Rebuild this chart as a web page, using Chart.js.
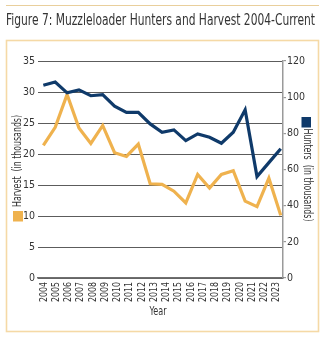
<!DOCTYPE html>
<html>
<head>
<meta charset="utf-8">
<script src="https://cdn.jsdelivr.net/npm/chart.js@4.4.1/dist/chart.umd.min.js"></script>
<style>
  html, body { margin: 0; padding: 0; background: #ffffff; }
  #wrap { position: relative; width: 325px; height: 338px; }
  canvas { display: block; }
</style>
</head>
<body>
<div id="wrap"><canvas id="chart" width="325" height="338"></canvas></div>
<script>
// Year labels along the bottom axis
const yearLabels = ['2004','2005','2006','2007','2008','2009','2010','2011','2012','2013',
                    '2014','2015','2016','2017','2018','2019','2020','2021','2022','2023'];

// Muzzleloader harvest, thousands (left axis)
const harvest = [21.4, 24.3, 29.6, 24.2, 21.7, 24.6, 20.2, 19.6, 21.6, 15.2, 15.1,
                 14.0, 12.1, 16.7, 14.5, 16.7, 17.3, 12.4, 11.5, 16.1, 10.1];

// Muzzleloader hunters, thousands (right axis)
const hunters = [106.6, 108.4, 102.4, 104.0, 100.8, 101.4, 95.0, 91.6, 91.6, 85.2, 80.6,
                 81.9, 76.0, 79.7, 77.8, 74.5, 80.6, 93.0, 56.1, 63.8, 71.5];

// Axis ticks
const harvestTicks = { min: 0, max: 35, step: 5 };
const hunterTicks = { min: 0, max: 120, step: 20 };

const FONT = "'Liberation Sans Narrow', 'DejaVu Sans Condensed', 'Arial Narrow', sans-serif";
const TEXT = '#343434';
const ORANGE = '#EFB24E';
const NAVY = '#0F3A6A';

const toPoints = arr => arr.map((v, i) => ({ x: i, y: v }));

// Draw text squeezed or stretched to a given length
function fitText(ctx, text, x, y, len, size, rot, align) {
  ctx.save();
  ctx.font = 'normal ' + size + 'px ' + FONT;
  ctx.fillStyle = TEXT;
  ctx.textAlign = align || 'center';
  ctx.textBaseline = 'middle';
  ctx.translate(x, y);
  ctx.rotate(rot || 0);
  const w = ctx.measureText(text).width;
  ctx.scale(len / w, 1);
  ctx.fillText(text, 0, 0);
  ctx.restore();
}

const decorations = {
  id: 'decorations',
  beforeDraw(chart) {
    const ctx = chart.ctx;
    ctx.save();
    ctx.fillStyle = '#ffffff';
    ctx.fillRect(0, 0, chart.width, chart.height);
    // rule above the heading
    ctx.strokeStyle = '#E9CF9C';
    ctx.lineWidth = 1.2;
    ctx.beginPath();
    ctx.moveTo(6, 5.5);
    ctx.lineTo(319, 5.5);
    ctx.stroke();
    // panel frame
    ctx.strokeStyle = '#F5D9A6';
    ctx.lineWidth = 1.6;
    ctx.strokeRect(6.5, 40.5, 312, 291);
    ctx.restore();
  },
  afterDraw(chart) {
    const ctx = chart.ctx;
    // heading
    ctx.save();
    ctx.font = 'normal 15.5px ' + FONT;
    ctx.fillStyle = TEXT;
    ctx.textAlign = 'left';
    ctx.textBaseline = 'alphabetic';
    const title = 'Figure 7: Muzzleloader Hunters and Harvest 2004-Current';
    const tw = ctx.measureText(title).width;
    ctx.translate(6, 25);
    ctx.scale(309 / tw, 1);
    ctx.fillText(title, 0, 0);
    ctx.restore();

    // year labels, reading upward, ending just under the axis
    const xs = chart.scales.x;
    yearLabels.forEach((lab, i) => {
      const px = xs.getPixelForTick(i);
      fitText(ctx, lab, px, xs.top + 4, 20, 10, -Math.PI / 2, 'right');
    });

    // axis titles with colour keys
    fitText(ctx, 'Harvest  (in thousands)', 18, 161, 92, 12, -Math.PI / 2);
    fitText(ctx, 'Hunters  (in thousands)', 307, 175, 93, 12, Math.PI / 2);
    fitText(ctx, 'Year', 158, 312.5, 17, 11.5);

    ctx.save();
    ctx.fillStyle = ORANGE;
    ctx.fillRect(13, 211, 10, 10.5);
    ctx.fillStyle = NAVY;
    ctx.fillRect(301.5, 117, 9.5, 10.5);
    ctx.restore();
  }
};

new Chart(document.getElementById('chart'), {
  type: 'line',
  data: {
    labels: yearLabels,
    datasets: [
      {
        label: 'Hunters',
        data: toPoints(hunters),
        xAxisID: 'xd',
        yAxisID: 'y1',
        borderColor: NAVY,
        borderWidth: 3.2,
        pointRadius: 0,
        tension: 0,
        fill: false
      },
      {
        label: 'Harvest',
        data: toPoints(harvest),
        xAxisID: 'xd',
        yAxisID: 'y',
        borderColor: ORANGE,
        borderWidth: 3.2,
        pointRadius: 0,
        tension: 0,
        fill: false
      }
    ]
  },
  options: {
    responsive: false,
    animation: false,
    devicePixelRatio: 1,
    layout: { padding: { top: 61, left: 0, right: 0, bottom: 0 } },
    plugins: {
      legend: { display: false },
      tooltip: { enabled: false },
      title: { display: false }
    },
    scales: {
      x: {
        type: 'category',
        position: 'bottom',
        offset: true,
        grid: { display: false },
        border: { display: true, color: '#6f6f6f', width: 1.5 },
        ticks: { display: false },
        afterFit(scale) { scale.height = 60; }
      },
      xd: {
        type: 'linear',
        display: false,
        min: -0.45,
        max: 20.19
      },
      y: {
        position: 'left',
        min: harvestTicks.min,
        max: harvestTicks.max,
        ticks: {
          stepSize: harvestTicks.step,
          color: TEXT,
          font: { family: FONT, size: 10.5 },
          padding: 3
        },
        grid: { color: '#5c5c5c', lineWidth: 1, drawTicks: false },
        border: { display: false },
        afterFit(scale) { scale.width = 38; }
      },
      y1: {
        position: 'right',
        min: hunterTicks.min,
        max: hunterTicks.max,
        ticks: {
          stepSize: hunterTicks.step,
          color: TEXT,
          font: { family: FONT, size: 10.5 },
          padding: 1
        },
        grid: { display: true, drawOnChartArea: false, drawTicks: true, tickLength: 3, color: '#9a9a9a', lineWidth: 1.2 },
        border: { display: true, color: '#9a9a9a', width: 1.5 },
        afterFit(scale) { scale.width = 42; }
      }
    }
  },
  plugins: [decorations]
});
</script>
</body>
</html>
